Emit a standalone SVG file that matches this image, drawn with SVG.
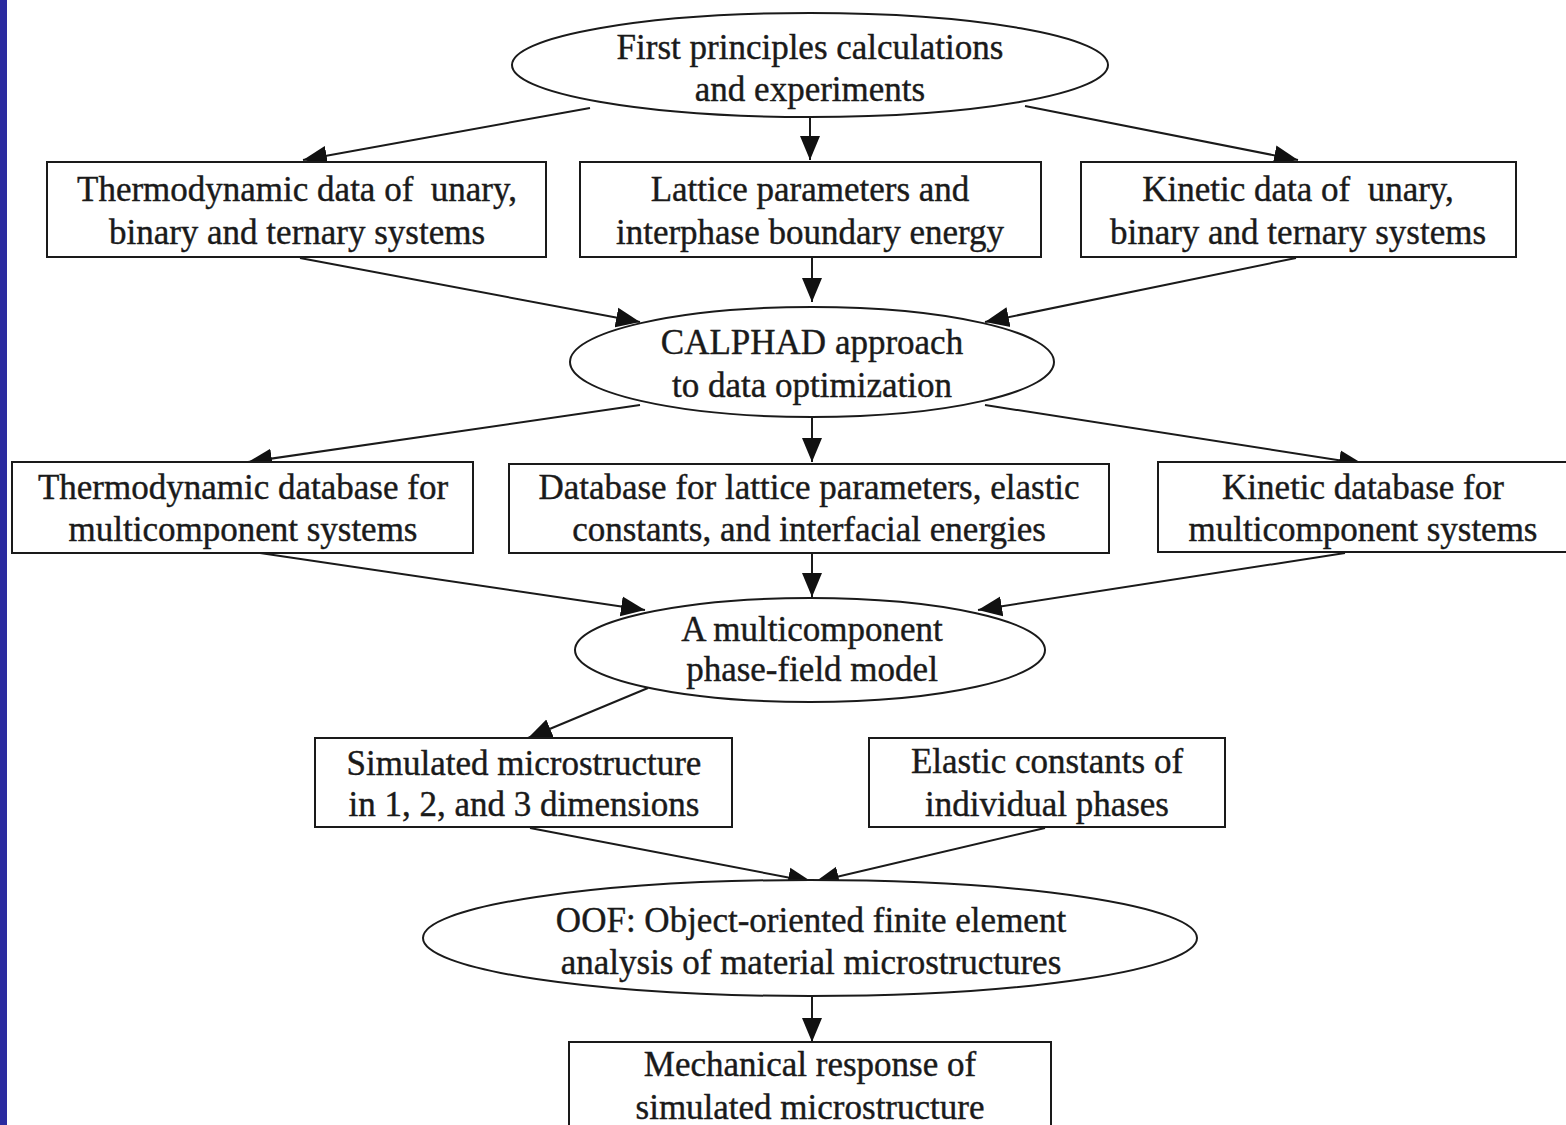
<svg xmlns="http://www.w3.org/2000/svg" width="1566" height="1125" viewBox="0 0 1566 1125">
<style>
.n{fill:#fff;stroke:#1a1a1a;stroke-width:2}
.t{font-family:"Liberation Serif","Times New Roman",serif;font-size:35px;fill:#1a1a1a;stroke:#1a1a1a;stroke-width:0.4;text-anchor:middle;white-space:pre}
.c{stroke:#1a1a1a;stroke-width:2;fill:none}
</style>
<defs>
<marker id="ah" markerUnits="userSpaceOnUse" markerWidth="26" markerHeight="22" viewBox="0 0 26 22" refX="24" refY="11" orient="auto">
<path d="M0,1 L24,11 L0,21 Z" fill="#111"/>
</marker>
</defs>
<rect x="0" y="0" width="1566" height="1125" fill="#fff"/>
<rect x="0" y="0" width="7" height="1125" fill="#2b2ba0"/>
<g id="connectors">
<line class="c" x1="590" y1="108" x2="303" y2="160" marker-end="url(#ah)"/>
<line class="c" x1="810" y1="117" x2="810" y2="160" marker-end="url(#ah)"/>
<line class="c" x1="1025" y1="106" x2="1298" y2="160" marker-end="url(#ah)"/>
<line class="c" x1="300" y1="258" x2="640" y2="322" marker-end="url(#ah)"/>
<line class="c" x1="812" y1="258" x2="812" y2="302" marker-end="url(#ah)"/>
<line class="c" x1="1296" y1="258" x2="985" y2="322" marker-end="url(#ah)"/>
<line class="c" x1="640" y1="405" x2="248" y2="462" marker-end="url(#ah)"/>
<line class="c" x1="812" y1="417" x2="812" y2="462" marker-end="url(#ah)"/>
<line class="c" x1="985" y1="405" x2="1363" y2="464" marker-end="url(#ah)"/>
<line class="c" x1="260" y1="553" x2="645" y2="610" marker-end="url(#ah)"/>
<line class="c" x1="812" y1="553" x2="812" y2="597" marker-end="url(#ah)"/>
<line class="c" x1="1345" y1="553" x2="978" y2="610" marker-end="url(#ah)"/>
<line class="c" x1="648" y1="688" x2="528" y2="738" marker-end="url(#ah)"/>
<line class="c" x1="530" y1="828" x2="812" y2="882" marker-end="url(#ah)"/>
<line class="c" x1="1045" y1="828" x2="815" y2="882" marker-end="url(#ah)"/>
<line class="c" x1="812" y1="996" x2="812" y2="1042" marker-end="url(#ah)"/>
</g>
<g id="first-principles">
<ellipse class="n" cx="810" cy="65" rx="298" ry="52"/>
<text class="t" x="810" y="59">First principles calculations</text>
<text class="t" x="810" y="101">and experiments</text>
</g>
<g id="thermo-data">
<rect class="n" x="47" y="162" width="499" height="95"/>
<text class="t" x="297" y="201" xml:space="preserve">Thermodynamic data of  unary,</text>
<text class="t" x="297" y="244">binary and ternary systems</text>
</g>
<g id="lattice-params">
<rect class="n" x="580" y="162" width="461" height="95"/>
<text class="t" x="810" y="201">Lattice parameters and</text>
<text class="t" x="810" y="244">interphase boundary energy</text>
</g>
<g id="kinetic-data">
<rect class="n" x="1081" y="162" width="435" height="95"/>
<text class="t" x="1298" y="201" xml:space="preserve">Kinetic data of  unary,</text>
<text class="t" x="1298" y="244">binary and ternary systems</text>
</g>
<g id="calphad">
<ellipse class="n" cx="812" cy="362" rx="242" ry="55"/>
<text class="t" x="812" y="354">CALPHAD approach</text>
<text class="t" x="812" y="397">to data optimization</text>
</g>
<g id="thermo-db">
<rect class="n" x="12" y="462" width="461" height="91"/>
<text class="t" x="243" y="499">Thermodynamic database for</text>
<text class="t" x="243" y="541">multicomponent systems</text>
</g>
<g id="lattice-db">
<rect class="n" x="509" y="464" width="600" height="89"/>
<text class="t" x="809" y="499">Database for lattice parameters, elastic</text>
<text class="t" x="809" y="541">constants, and interfacial energies</text>
</g>
<g id="kinetic-db">
<rect class="n" x="1158" y="462" width="420" height="90"/>
<text class="t" x="1363" y="499">Kinetic database for</text>
<text class="t" x="1363" y="541">multicomponent systems</text>
</g>
<g id="phase-field">
<ellipse class="n" cx="810" cy="650" rx="235" ry="52"/>
<text class="t" x="812" y="641">A multicomponent</text>
<text class="t" x="812" y="681">phase-field model</text>
</g>
<g id="simulated-micro">
<rect class="n" x="315" y="738" width="417" height="89"/>
<text class="t" x="524" y="775">Simulated microstructure</text>
<text class="t" x="524" y="816">in 1, 2, and 3 dimensions</text>
</g>
<g id="elastic-constants">
<rect class="n" x="869" y="738" width="356" height="89"/>
<text class="t" x="1047" y="773">Elastic constants of</text>
<text class="t" x="1047" y="816">individual phases</text>
</g>
<g id="oof">
<ellipse class="n" cx="810" cy="938" rx="387" ry="58"/>
<text class="t" x="811" y="932">OOF: Object-oriented finite element</text>
<text class="t" x="811" y="974">analysis of material microstructures</text>
</g>
<g id="mechanical">
<rect class="n" x="569" y="1042" width="482" height="95"/>
<text class="t" x="810" y="1076">Mechanical response of</text>
<text class="t" x="810" y="1119">simulated microstructure</text>
</g>
</svg>
